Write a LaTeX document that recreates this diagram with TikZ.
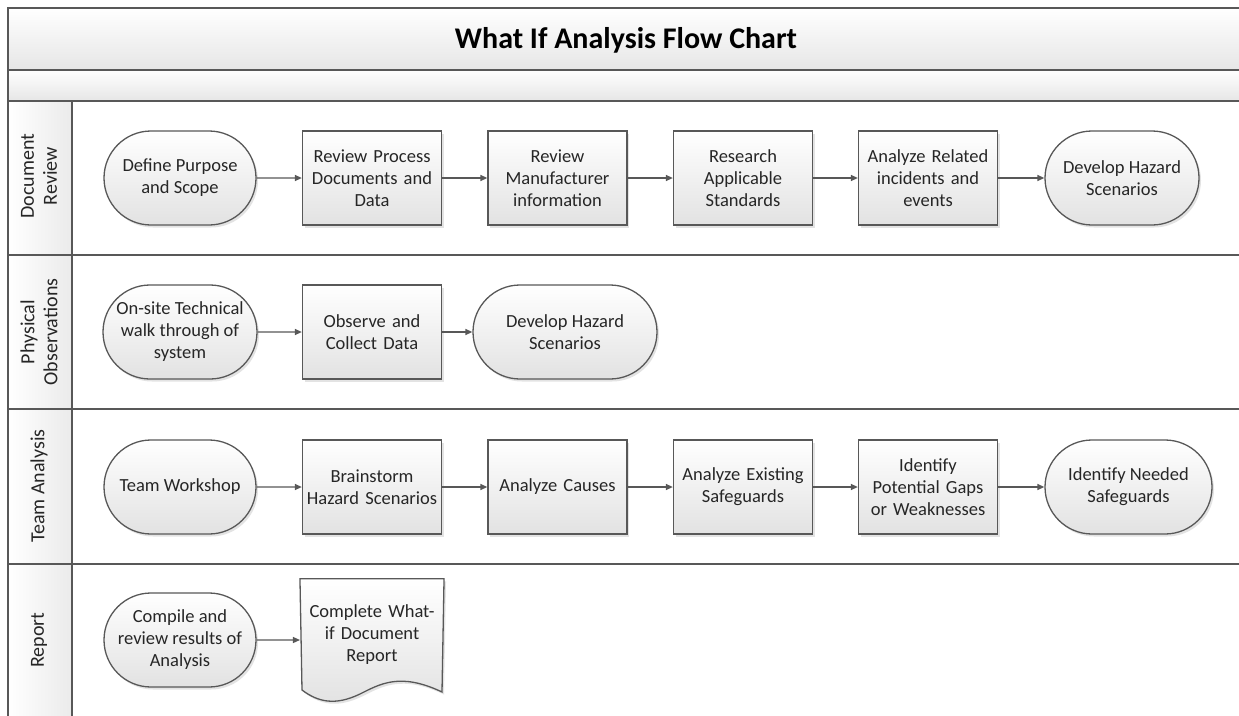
\documentclass[tikz,border=0pt]{standalone}
\usepackage{fontspec}
\setmainfont{Carlito}
\usetikzlibrary{shapes.misc,shadows,arrows.meta}

\definecolor{linec}{RGB}{88,88,88}
\definecolor{fillbot}{RGB}{226,226,226}
\definecolor{bandbot}{RGB}{230,230,230}

\tikzset{
  every node/.style={font=\fontsize{18.5}{22}\selectfont, text=black!85},
  basebox/.style={draw=linec, line width=1.3pt, top color=white, bottom color=fillbot,
    minimum height=94pt, align=center, inner sep=1pt,
    drop shadow={opacity=0.22, shadow xshift=2pt, shadow yshift=-2.5pt}},
  procbox/.style={basebox, rectangle, minimum width=139pt, text width=137pt},
  termbox/.style={basebox, rounded rectangle, minimum width=154pt},
  docbox/.style={rectangle, minimum width=140pt, minimum height=112pt, align=center, text width=137pt},
  flow/.style={draw=linec, line width=1.3pt, -{Triangle[length=7pt,width=6pt]}},
  frame/.style={draw=linec, line width=1.8pt},
  lanelabel/.style={rotate=90, align=center, font=\fontsize{20}{23}\selectfont},
}

\begin{document}
\begin{tikzpicture}[x=1pt,y=-1pt]
\useasboundingbox (0,0) rectangle (1239,715);
\fill[white] (0,0) rectangle (1239,715);

% title and sub-header bands
\path[top color=white, bottom color=bandbot] (8,8) rectangle (1250,70);
\path[top color=white, bottom color=bandbot] (8,70) rectangle (1250,101);
\node[font=\bfseries\fontsize{30}{34}\selectfont, text=black] (title) at (626,40) {What If Analysis Flow Chart};

% lane label column
\path[left color=white, right color=black!8] (8,101) rectangle (72,730);

% lane frame lines
\draw[frame] (1250,8) -- (8,8) -- (8,730);
\draw[frame] (8,70) -- (1250,70);
\draw[frame] (8,101) -- (1250,101);
\draw[frame] (8,255) -- (1250,255);
\draw[frame] (8,409) -- (1250,409);
\draw[frame] (8,564) -- (1250,564);
\draw[frame] (72,101) -- (72,730);

% lane labels
\node[lanelabel] (lane1) at (39,176) {Document\\Review};
\node[lanelabel] (lane2) at (39,332) {Physical\\Observations};
\node[lanelabel] (lane3) at (39,486) {Team Analysis};
\node[lanelabel] (lane4) at (39,640) {Report};

% lane 1: document review
\node[termbox] (define) at (180,178) {Define Purpose\\and Scope};
\node[procbox] (revproc) at (372,178) {Review Process\\Documents and\\Data};
\node[procbox] (revman) at (557.5,178) {Review\\Manufacturer\\information};
\node[procbox] (research) at (743,178) {Research\\Applicable\\Standards};
\node[procbox] (related) at (928,178) {Analyze Related\\incidents and\\events};
\node[termbox, minimum width=156pt] (hazard1) at (1122,178) {Develop Hazard\\Scenarios};

\draw[flow] (define) -- (revproc);
\draw[flow] (revproc) -- (revman);
\draw[flow] (revman) -- (research);
\draw[flow] (research) -- (related);
\draw[flow] (related) -- (hazard1);

% lane 2: physical observations
\node[termbox, inner sep=0pt] (onsite) at (180,332) {On-site Technical\\walk through of\\system};
\node[procbox] (observe) at (372,332) {Observe and\\Collect Data};
\node[termbox, minimum width=186pt] (hazard2) at (565,332) {Develop Hazard\\Scenarios};

\draw[flow] (onsite) -- (observe);
\draw[flow] (observe) -- (hazard2);

% lane 3: team analysis
\node[termbox] (workshop) at (180,487) {Team Workshop};
\node[procbox] (brainstorm) at (372,487) {Brainstorm\\Hazard Scenarios};
\node[procbox] (causes) at (557.5,487) {Analyze Causes};
\node[procbox] (existing) at (743,487) {Analyze Existing\\Safeguards};
\node[procbox] (gaps) at (928,487) {Identify\\Potential Gaps\\or Weaknesses};
\node[termbox, minimum width=169pt] (needed) at (1128.5,487) {Identify Needed\\Safeguards};

\draw[flow] (workshop) -- (brainstorm);
\draw[flow] (brainstorm) -- (causes);
\draw[flow] (causes) -- (existing);
\draw[flow] (existing) -- (gaps);
\draw[flow] (gaps) -- (needed);

% lane 4: report
\node[termbox] (compile) at (180,640) {Compile and\\review results of\\Analysis};
\node[docbox] (report) at (372,635) {};
\path[draw=linec, line width=1.3pt, top color=white, bottom color=fillbot,
      drop shadow={opacity=0.22, shadow xshift=2pt, shadow yshift=-2.5pt}]
  (report.north west) -- (report.north east) -- (442,692)
  .. controls (400,672) and (380,684) .. (360,694)
  .. controls (335,706) and (318,702) .. (302,690) -- cycle;
\node[docbox] (reporttext) at (report) {Complete What-\\if Document\\Report};

\draw[flow] (compile) -- (report.west |- compile);
\end{tikzpicture}
\end{document}
